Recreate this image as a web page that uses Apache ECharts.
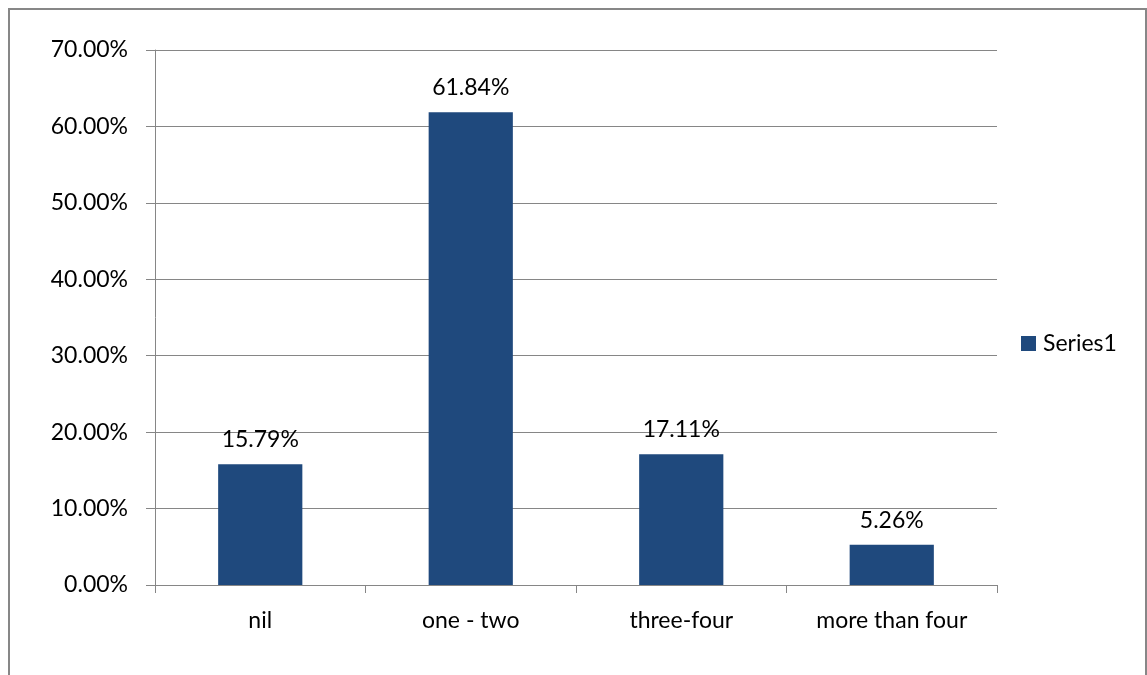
<!DOCTYPE html>
<html>
<head>
<meta charset="utf-8">
<script src="https://cdn.jsdelivr.net/npm/echarts@6/dist/echarts.min.js"></script>
<style>
  html, body { margin: 0; padding: 0; background: #ffffff; }
  #chart { width: 1147px; height: 675px; }
</style>
</head>
<body>
<div id="chart"></div>
<script>
// Share of respondents per bucket
const categories = ['nil', 'one - two', 'three-four', 'more than four'];
const seriesName = 'Series1';
const values = [0.1579, 0.6184, 0.1711, 0.0526];
const yTicks = { min: 0, max: 0.7, interval: 0.1 };

const FONT = 'Lato';
const FS = 23;
const TEXT = '#000000';
const GRID = '#868686';
const BAR = '#1F497D';

const chart = echarts.init(document.getElementById('chart'), null, { renderer: 'canvas' });

chart.setOption({
  animation: false,
  backgroundColor: '#ffffff',
  textStyle: { fontFamily: FONT, color: TEXT },
  graphic: [{
    type: 'rect',
    shape: { x: 9, y: 9, width: 1137, height: 720 },
    style: { fill: 'none', stroke: '#878787', lineWidth: 2 },
    silent: true
  }],
  legend: {
    data: [seriesName],
    left: 1021,
    top: 332,
    padding: 0,
    itemWidth: 15,
    itemHeight: 15,
    icon: 'rect',
    textStyle: { fontFamily: FONT, fontSize: FS, color: TEXT, padding: [0, 0, 0, 2] }
  },
  grid: { left: 155, right: 150, top: 50, bottom: 90, containLabel: false },
  xAxis: {
    type: 'category',
    data: categories,
    axisLine: { show: true, lineStyle: { color: GRID, width: 1 } },
    axisTick: { show: true, length: 8, alignWithLabel: false, lineStyle: { color: GRID } },
    axisLabel: { fontFamily: FONT, fontSize: FS, color: TEXT, margin: 24 },
    splitLine: { show: false }
  },
  yAxis: {
    type: 'value',
    min: yTicks.min,
    max: yTicks.max,
    interval: yTicks.interval,
    axisLine: { show: true, lineStyle: { color: GRID, width: 1 } },
    axisTick: { show: true, length: 9, lineStyle: { color: GRID } },
    axisLabel: {
      fontFamily: FONT, fontSize: FS, color: TEXT, margin: 27,
      formatter: v => (v * 100).toFixed(2) + '%'
    },
    splitLine: { show: true, lineStyle: { color: GRID, width: 1 } }
  },
  series: [{
    name: seriesName,
    type: 'bar',
    data: values,
    barWidth: '40%',
    itemStyle: { color: BAR },
    label: {
      show: true,
      position: 'top',
      distance: 13,
      fontFamily: FONT,
      fontSize: FS,
      color: TEXT,
      formatter: p => (p.value * 100).toFixed(2) + '%'
    }
  }]
});
</script>
</body>
</html>
